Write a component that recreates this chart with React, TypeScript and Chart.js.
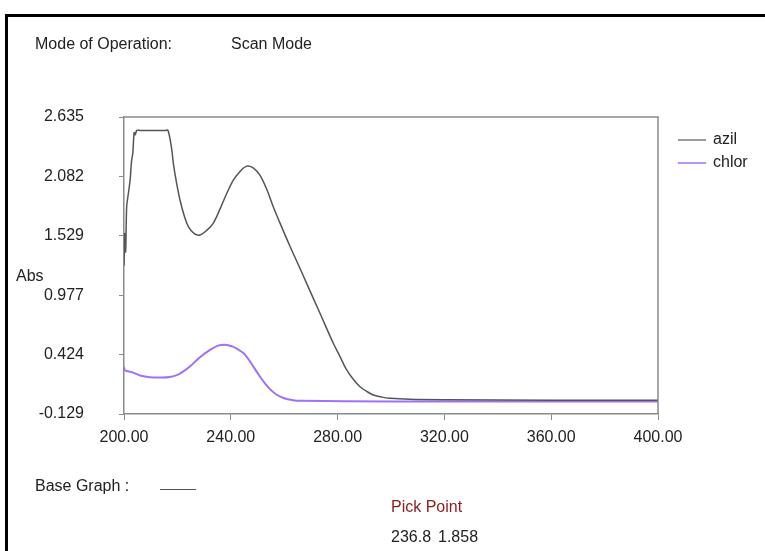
import React, { useEffect, useRef } from "react";
import { Chart, registerables } from "chart.js";

Chart.register(...registerables);

const azilWl = [200.0, 200.3, 200.6, 201.0, 201.5, 202.3, 202.8, 203.3, 203.8, 204.2, 204.8, 206.0, 208.5, 211.0, 213.5, 215.5, 216.5, 217.9, 218.5, 219.7, 221.0, 222.5, 224.1, 226.3, 228.5, 231.0, 233.4, 236.0, 238.5, 241.0, 243.4, 245.0, 246.5, 248.5, 250.9, 253.5, 255.9, 258.4, 262.2, 265.3, 268.4, 273.4, 278.4, 281.0, 283.4, 286.0, 288.4, 291.0, 293.4, 296.5, 299.6, 307.1, 320.0, 360.0, 400.0];
const azilAbs = [1.25, 1.55, 1.38, 1.80, 1.90, 2.05, 2.22, 2.30, 2.49, 2.47, 2.51, 2.51, 2.51, 2.51, 2.51, 2.51, 2.51, 2.33, 2.20, 2.02, 1.86, 1.72, 1.614, 1.55, 1.537, 1.58, 1.646, 1.78, 1.925, 2.05, 2.126, 2.165, 2.179, 2.16, 2.095, 1.96, 1.80, 1.65, 1.43, 1.26, 1.087, 0.808, 0.529, 0.40, 0.281, 0.19, 0.125, 0.08, 0.048, 0.028, 0.017, 0.008, 0.004, 0.0, -0.002];

const chlorWl = [200.0, 200.3, 203.0, 206.0, 209.7, 214.0, 217.2, 220.0, 222.1, 225.0, 228.0, 232.2, 235.0, 237.8, 240.5, 242.5, 244.6, 246.5, 248.5, 250.9, 253.0, 255.0, 257.2, 260.0, 263.3, 266.0, 300.0, 400.0];
const chlorAbs = [0.31, 0.28, 0.26, 0.23, 0.213, 0.21, 0.215, 0.235, 0.265, 0.32, 0.39, 0.467, 0.505, 0.515, 0.50, 0.475, 0.44, 0.385, 0.31, 0.22, 0.15, 0.095, 0.05, 0.018, 0.0, -0.006, -0.012, -0.012];

const seriesNames = ["azil", "chlor"];
const yTickValues = [-0.129, 0.424, 0.977, 1.529, 2.082, 2.635];
const xTickValues = [200, 240, 280, 320, 360, 400];

const FONT = "'Liberation Sans', Arial, sans-serif";

export default function App() {
  const ref = useRef<HTMLCanvasElement | null>(null);

  useEffect(() => {
    if (!ref.current) return;
    const framePlugin = {
      id: "frameAndLegend",
      afterDraw(chart: any) {
        const { ctx, chartArea } = chart;
        ctx.save();
        ctx.strokeStyle = "#8a8a8a";
        ctx.lineWidth = 1.5;
        ctx.beginPath();
        ctx.moveTo(chartArea.left, chartArea.top);
        ctx.lineTo(chartArea.right, chartArea.top);
        ctx.lineTo(chartArea.right, chartArea.bottom);
        ctx.stroke();
        chart.data.datasets.forEach((ds: any, i: number) => {
          const y = 140 + i * 23;
          ctx.strokeStyle = i === 0 ? "#7a7a7a" : ds.borderColor;
          ctx.lineWidth = 1.5;
          ctx.beginPath();
          ctx.moveTo(678, y);
          ctx.lineTo(706, y);
          ctx.stroke();
          ctx.fillStyle = "#222";
          ctx.font = `16px ${FONT}`;
          ctx.textBaseline = "middle";
          ctx.textAlign = "left";
          ctx.fillText(ds.label, 713, y);
        });
        ctx.restore();
      },
    };

    const chart = new Chart(ref.current, {
      type: "line",
      data: {
        datasets: [
          {
            label: seriesNames[0],
            data: azilWl.map((x, i) => ({ x, y: azilAbs[i] })),
            borderColor: "#555555",
            borderWidth: 1.5,
            pointRadius: 0,
            tension: 0.35,
          },
          {
            label: seriesNames[1],
            data: chlorWl.map((x, i) => ({ x, y: chlorAbs[i] })),
            borderColor: "#a070f8",
            borderWidth: 2,
            pointRadius: 0,
            tension: 0.4,
          },
        ],
      },
      options: {
        animation: false,
        responsive: false,
        maintainAspectRatio: false,
        layout: { padding: { top: 117, right: 107, left: 0, bottom: 0 } },
        plugins: { legend: { display: false }, tooltip: { enabled: false } },
        scales: {
          x: {
            type: "linear",
            min: 200,
            max: 400,
            afterFit: (s: any) => { s.height = 137; },
            afterBuildTicks: (s: any) => { s.ticks = xTickValues.map((v) => ({ value: v })); },
            grid: { display: true, drawOnChartArea: false, drawTicks: true, tickLength: 6, color: "#8a8a8a" },
            border: { display: true, color: "#8a8a8a", width: 1.5 },
            ticks: {
              padding: 8,
              color: "#222",
              font: { family: FONT, size: 16 },
              maxRotation: 0,
              callback: (v: any) => Number(v).toFixed(2),
            },
          },
          y: {
            type: "linear",
            min: -0.129,
            max: 2.635,
            afterFit: (s: any) => { s.width = 124; },
            afterBuildTicks: (s: any) => { s.ticks = yTickValues.map((v) => ({ value: v })); },
            grid: { display: true, drawOnChartArea: false, drawTicks: true, tickLength: 5, color: "#8a8a8a" },
            border: { display: true, color: "#8a8a8a", width: 1.5 },
            ticks: {
              padding: 35,
              color: "#222",
              font: { family: FONT, size: 16 },
              callback: (v: any) => Number(v).toFixed(3),
            },
          },
        },
      },
      plugins: [framePlugin],
    });
    return () => chart.destroy();
  }, []);

  const txt = (left: number, top: number, s: string, color = "#222") => (
    <div
      style={{
        position: "absolute",
        left,
        top,
        fontFamily: FONT,
        fontSize: 16,
        lineHeight: "16px",
        color,
        whiteSpace: "nowrap",
      }}
    >
      {s}
    </div>
  );

  return (
    <div
      style={{
        position: "fixed",
        left: 0,
        top: 0,
        width: 765,
        height: 551,
        overflow: "hidden",
        background: "#fff",
      }}
    >
      <div
        style={{
          position: "absolute",
          left: 5,
          top: 14,
          width: 900,
          height: 700,
          borderTop: "3px solid #000",
          borderLeft: "3px solid #000",
        }}
      />
      <canvas
        ref={ref}
        width={765}
        height={551}
        style={{ position: "absolute", left: 0, top: 0, width: 765, height: 551 }}
      />
      {txt(35, 36, "Mode of Operation:")}
      {txt(231, 36, "Scan Mode")}
      {txt(16, 268, "Abs")}
      {txt(35, 478, "Base Graph :")}
      <div style={{ position: "absolute", left: 160, top: 489, width: 36, height: 0, borderTop: "1.5px solid #555" }} />
      {txt(391, 499, "Pick Point", "#8b1c1c")}
      {txt(391, 529, "236.8")}
      {txt(438, 529, "1.858")}
    </div>
  );
}
